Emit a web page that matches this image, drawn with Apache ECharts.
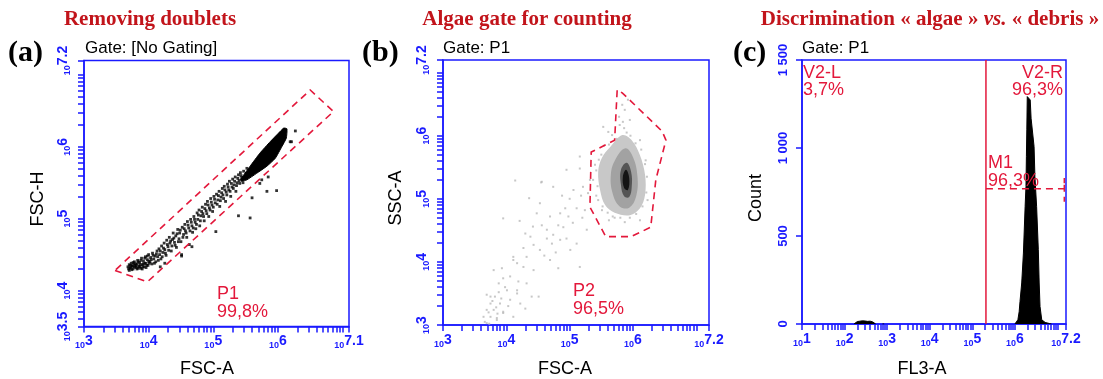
<!DOCTYPE html>
<html>
<head>
<meta charset="utf-8">
<script src="https://cdn.jsdelivr.net/npm/echarts@6/dist/echarts.min.js"></script>
<style>
  html, body { margin: 0; padding: 0; background: #fff; }
  #chart { width: 1103px; height: 379px; }
</style>
</head>
<body>
<div id="chart"></div>
<script>
// ---------- (a) Removing doublets: FSC-A vs FSC-H, values as log10 of the signal ----------
const singletEvents = [
  [3.68,4.33],[3.69,4.30],[3.70,4.36],[3.71,4.32],[3.72,4.31],[3.73,4.38],[3.74,4.34],[3.75,4.34],[3.76,4.30],[3.77,4.37],
  [3.78,4.40],[3.79,4.35],[3.80,4.32],[3.81,4.34],[3.82,4.37],[3.83,4.42],[3.84,4.31],[3.85,4.34],[3.86,4.39],[3.87,4.36],
  [3.88,4.31],[3.89,4.45],[3.90,4.36],[3.91,4.33],[3.92,4.41],[3.93,4.33],[3.94,4.38],[3.95,4.47],[3.96,4.38],[3.97,4.35],
  [3.98,4.43],[3.99,4.35],[4.00,4.50],[4.01,4.38],[4.02,4.40],[4.03,4.46],[4.05,4.37],[4.06,4.52],[4.08,4.44],[4.10,4.48],
  [4.11,4.40],[4.13,4.55],[4.14,4.47],[4.16,4.58],[4.17,4.50],[4.19,4.44],[4.20,4.62],[4.22,4.53],[4.24,4.66],[4.25,4.57],
  [4.27,4.49],[4.28,4.70],[4.30,4.61],[4.32,4.74],[4.33,4.66],[4.35,4.55],[4.37,4.71],[4.38,4.80],[4.40,4.67],[4.42,4.76],
  [4.43,4.60],[4.45,4.85],[4.47,4.72],[4.48,4.80],[4.50,4.68],[4.51,4.50],[4.52,4.88],[4.54,4.78],[4.56,4.92],[4.57,4.83],
  [4.59,4.74],[4.60,4.96],[4.62,4.87],[4.63,4.64],[4.65,4.99],[4.67,4.90],[4.68,4.81],[4.70,5.03],[4.72,4.95],[4.73,4.86],
  [4.75,5.08],[4.76,4.99],[4.78,5.12],[4.79,4.90],[4.81,5.04],[4.83,5.16],[4.84,5.07],[4.86,4.97],[4.88,5.20],[4.89,5.11],
  [4.91,5.24],[4.93,5.03],[4.94,5.15],[4.96,5.28],[4.98,5.19],[4.99,5.10],[5.01,5.31],[5.03,5.22],[5.04,4.82],[5.05,5.34],
  [5.07,5.26],[5.09,5.38],[5.10,5.17],[5.12,5.30],[5.14,5.42],[5.15,5.33],[5.17,5.45],[5.19,5.24],[5.20,5.37],[5.22,5.48],
  [5.24,5.40],[5.25,5.52],[5.27,5.31],[5.29,5.44],[5.30,5.55],[5.32,5.47],[5.34,5.58],[5.35,5.38],[5.37,5.50],[5.39,5.61],
  [5.39,5.04],[5.40,5.53],[5.42,5.64],[5.44,5.57],[5.46,5.50],[5.47,5.66],[5.50,5.58],[5.52,5.70],[5.55,5.62],
  [3.70,4.28],[3.72,4.35],[3.74,4.29],[3.76,4.39],[3.78,4.33],[3.80,4.37],[3.82,4.30],[3.84,4.40],[3.86,4.33],[3.88,4.42],
  [3.90,4.30],[3.92,4.37],[3.94,4.45],[3.96,4.32],[3.98,4.48],[4.00,4.41],[4.04,4.43],[4.07,4.49],[4.09,4.38],[4.12,4.51],
  [4.15,4.42],[4.18,4.55],[4.21,4.47],[4.23,4.59],[4.26,4.52],[4.29,4.64],[4.31,4.56],[4.34,4.69],[4.36,4.62],[4.39,4.73],
  [4.41,4.63],[4.44,4.79],[4.46,4.68],[4.49,4.84],[4.53,4.74],[4.55,4.86],[4.58,4.80],[4.61,4.91],[4.64,4.83],[4.66,4.95],
  [4.69,4.87],[4.71,4.99],[4.74,4.92],[4.77,5.05],[4.80,4.97],[4.82,5.10],[4.85,5.03],[4.87,5.14],[4.90,5.07],[4.92,5.19],
  [4.95,5.12],[4.97,5.23],[5.00,5.16],[5.02,5.27],[5.06,5.20],[5.08,5.32],[5.11,5.25],[5.13,5.36],[5.16,5.28],[5.18,5.40],
  [5.21,5.33],[5.23,5.44],[5.26,5.38],[5.28,5.49],[5.31,5.42],[5.33,5.52],[5.36,5.46],[5.38,5.56],[5.41,5.49],[5.43,5.60],
  [5.45,5.54],
  [4.51,4.48],[4.67,4.61],[5.57,5.01],[5.60,5.29],[5.75,5.54],[5.72,5.49],[5.85,5.58],[5.83,5.38],[5.98,5.39],
  [6.19,6.07],[6.27,6.22],[6.21,6.07],[4.25,4.38],[4.18,4.33]
];
// outline of the saturated singlet cluster
const singletCore = [
  [5.42,5.54],[5.57,5.73],[5.72,5.91],[5.88,6.07],[6.01,6.19],[6.09,6.26],[6.14,6.25],[6.13,6.12],
  [6.06,6.00],[5.96,5.84],[5.83,5.73],[5.67,5.63],[5.52,5.54],[5.44,5.52]
];
const gateP1 = [[3.48,4.28],[3.98,4.12],[6.86,6.49],[6.50,6.79]];

// ---------- (b) Algae gate: FSC-A vs SSC-A, log10 units ----------
const scatterEvents = [
  [4.14,5.29],[3.95,4.69],[4.21,4.65],[4.55,5.26],[4.36,5.01],[4.48,4.77],[4.56,4.58],[4.74,4.43],[4.64,4.37],[4.85,4.35],
  [4.95,4.37],[4.98,4.72],[4.93,4.85],[5.11,4.85],[5.16,3.92],[4.82,3.90],[4.69,4.03],[4.53,4.19],[4.43,4.27],[4.32,4.08],
  [4.27,3.92],[4.17,3.98],[4.06,3.77],[3.95,3.74],[4.01,3.55],[3.88,3.66],[3.82,3.45],[3.75,3.34],[3.69,3.24],[3.80,3.24],
  [3.90,3.34],[4.06,3.40],[4.17,3.50],[4.40,3.45],[4.51,3.45],[4.11,3.13],[3.85,3.11],[3.69,3.03],[3.95,3.19],[4.95,5.46],
  [4.74,5.19],[5.16,5.48],[5.06,5.14],[4.85,4.77],[4.64,4.51],[4.38,4.40],[4.27,4.22],[4.53,4.93],[4.69,4.72],[4.82,4.58],
  [5.01,4.19],[4.72,4.29],[4.43,3.87],[4.32,3.66],[4.19,3.69],[3.93,3.90],[4.11,4.08],[3.75,3.45],[3.64,3.13],[4.22,3.34],
  [5.11,4.29],[5.27,4.51],[5.24,4.82],[5.29,5.09],[5.32,5.30],[5.21,5.19],[4.56,5.27],[5.16,5.67],[5.53,6.14],[5.61,6.06],
  [5.40,5.54],[5.45,4.98],[5.54,5.84],[5.51,4.82],[5.62,4.66],[5.71,4.70],[5.87,4.63],[6.11,4.66],[6.23,4.98],[6.20,5.61],
  [6.11,5.93],[5.95,6.25],[5.87,6.41],[5.83,6.49],[5.79,6.17],[5.67,6.01],[5.92,6.57],
  [3.69,3.48],[3.80,3.87],[4.11,4.03],[4.17,3.55],[4.30,3.26],[3.95,3.21],[3.75,3.13],[3.85,3.08],
  [3.72,3.20],[3.78,3.38],[3.84,3.28],[3.88,3.52],[3.92,3.42],[3.98,3.60],[4.03,3.30],[3.66,3.05],[3.73,3.02],[3.86,3.18],
  [4.60,4.10],[4.78,4.15],[4.90,4.55],[5.05,4.62],[5.20,4.70],[5.00,5.00],[4.88,5.05],[5.18,5.05],[4.42,4.56],[4.30,4.45],
  [5.86,6.12],[5.90,6.05],[5.78,6.30],[5.96,6.00],[5.84,6.22],[5.42,5.45],[5.44,5.20],[5.46,5.62],[5.50,5.70],[5.42,5.05],
  [5.52,4.88],[5.60,4.78],[5.68,4.72],[5.80,4.70],[5.95,4.70],[6.05,4.76],[6.15,4.88],[6.21,5.10],[6.22,5.35],[6.19,5.55],
  [6.13,5.78],[6.04,5.88],[5.74,5.95],[5.62,5.86],[5.37,5.30]
];
// density levels of the algae population (outer to inner)
const algaeHalo = [
  [5.83,6.01],[5.98,5.93],[6.11,5.69],[6.19,5.38],[6.19,5.06],[6.11,4.85],[5.95,4.74],[5.71,4.78],
  [5.56,4.90],[5.48,5.14],[5.45,5.43],[5.51,5.65],[5.64,5.82]
];
const algaeMid = [
  [5.88,5.80],[6.00,5.66],[6.07,5.36],[6.05,5.04],[5.94,4.86],[5.79,4.88],[5.68,5.08],[5.65,5.38],[5.72,5.62]
];
const algaeDense = [
  [5.90,5.57],[5.97,5.43],[5.98,5.19],[5.94,5.03],[5.86,5.04],[5.81,5.22],[5.81,5.46]
];
const algaeCore = [[5.89,5.46],[5.94,5.33],[5.92,5.14],[5.86,5.17],[5.84,5.35]];
const gateP2 = [
  [5.75,6.72],[5.71,5.93],[5.34,5.74],[5.32,4.87],[5.57,4.40],[5.97,4.40],[6.28,4.55],[6.36,5.30],
  [6.52,5.93],[6.46,6.07],[5.83,6.68]
];

// ---------- (c) FL3-A histogram: [log10 FL3-A, count] ----------
const fl3Algae = [
  [6.00,0],[6.04,8],[6.07,24],[6.10,70],[6.12,128],[6.16,233],[6.20,403],[6.24,667],[6.26,781],[6.27,951],
  [6.28,1103],[6.29,1292],[6.32,1301],[6.36,1273],[6.38,1169],[6.42,1159],[6.45,1008],[6.47,838],[6.51,667],
  [6.55,422],[6.57,233],[6.59,100],[6.63,24],[6.71,9],[6.82,2],[6.86,0]
];
const fl3Debris = [
  [2.22,0],[2.26,8],[2.30,14],[2.36,16],[2.42,18],[2.48,17],[2.54,15],[2.60,16],[2.66,12],[2.70,6],[2.73,0],
  null,[2.89,0],[2.91,8],[2.93,0]
];
const markerV2 = 5.32;          // V2 split between V2-L and V2-R
const markerM1Level = 768;      // height of the M1 range bar
const markerM1Range = [5.32, 7.16];
const markerM1Cap = [694, 830];

// ---------- tick labels ----------
const fscATicksA = [3, 4, 5, 6, 7.1];
const fscHTicks = [3.5, 4, 5, 6, 7.2];
const fscATicksB = [3, 4, 5, 6, 7.2];
const sscTicks = [3, 4, 5, 6, 7.2];
const fl3Ticks = [1, 2, 3, 4, 5, 6, 7.2];
const countTicks = [0, 500, 1000, 1500];
const countTickText = ['0', '500', '1 000', '1 500'];

const BLUE = '#1a1aff';
const RED = '#e3183b';
const TITLE_RED = '#c2141b';
const SANS = 'Liberation Sans, Arial, sans-serif';
const SERIF = 'Liberation Serif, Times New Roman, serif';

// decade and sub-decade tick positions of a log10 axis
function logTicks(min, max) {
  const out = [min];
  for (let d = Math.floor(min); d <= Math.ceil(max); d++) {
    for (let k = 1; k <= 9; k++) {
      const v = d + Math.log10(k);
      if (v > min + 1e-6 && v < max - 1e-6) out.push(v);
    }
  }
  out.push(max);
  return out;
}

const powRich = {
  b: { fontSize: 9, fontWeight: 'bold', fontFamily: SANS, color: BLUE, verticalAlign: 'bottom' },
  e: { fontSize: 14, fontWeight: 'bold', fontFamily: SANS, color: BLUE, verticalAlign: 'top', padding: [0, 0, 2, 0] }
};
const powLabel = v => '{b|10}{e|' + String(Math.round(v * 10) / 10) + '}';

function logAxis(gridIndex, min, max, labels, vertical) {
  return {
    type: 'value', gridIndex, min, max,
    axisLine: { show: true, onZero: false, lineStyle: { color: BLUE, width: 1.5 } },
    axisTick: { show: true, inside: false, length: 6, customValues: logTicks(min, max),
                lineStyle: { color: BLUE, width: 1.5 } },
    axisLabel: { show: true, customValues: labels, formatter: powLabel, rich: powRich,
                 rotate: vertical ? 90 : 0, margin: vertical ? 12 : 8, color: BLUE },
    splitLine: { show: false }
  };
}

function polygonSeries(pts, gi, style, smooth, z) {
  return {
    type: 'custom', coordinateSystem: 'cartesian2d', xAxisIndex: gi, yAxisIndex: gi,
    data: pts, silent: true, z: z,
    renderItem: (params, api) => {
      if (params.dataIndex !== 0) return null;
      return {
        type: 'polygon',
        shape: { points: pts.map(p => api.coord(p)), smooth: smooth || 0 },
        style: Object.assign({}, style)
      };
    }
  };
}

const gateStyle = { fill: 'none', stroke: RED, lineWidth: 1.6, lineDash: [7, 5] };

const option = {
  animation: false,
  backgroundColor: '#ffffff',
  grid: [
    { left: 84, top: 60.5, width: 265, height: 266, show: true, borderColor: BLUE, borderWidth: 1.5, outerBoundsMode: 'none' },
    { left: 443, top: 60, width: 266, height: 265, show: true, borderColor: BLUE, borderWidth: 1.5, outerBoundsMode: 'none' },
    { left: 802, top: 60, width: 264, height: 264, show: true, borderColor: BLUE, borderWidth: 1.5, outerBoundsMode: 'none' }
  ],
  xAxis: [
    logAxis(0, 3, 7.1, fscATicksA, false),
    logAxis(1, 3, 7.2, fscATicksB, false),
    logAxis(2, 1, 7.2, fl3Ticks, false)
  ],
  yAxis: [
    logAxis(0, 3.5, 7.2, fscHTicks, true),
    logAxis(1, 3, 7.2, sscTicks, true),
    {
      type: 'value', gridIndex: 2, min: 0, max: 1500,
      axisLine: { show: true, lineStyle: { color: BLUE, width: 1.5 } },
      axisTick: { show: true, inside: false, length: 6, customValues: countTicks, lineStyle: { color: BLUE, width: 1.5 } },
      axisLabel: { customValues: countTicks, rotate: 90, margin: 12, color: BLUE,
                   fontSize: 13, fontWeight: 'bold', fontFamily: SANS,
                   formatter: v => countTickText[countTicks.indexOf(v)] },
      splitLine: { show: false }
    }
  ],
  series: [
    // (a)
    polygonSeries(singletCore, 0, { fill: '#000', stroke: '#000', lineWidth: 1 }, 0.15, 3),
    { type: 'scatter', xAxisIndex: 0, yAxisIndex: 0, data: singletEvents, symbol: 'rect', symbolSize: 2.8,
      itemStyle: { color: '#000' }, silent: true, z: 4 },
    polygonSeries(gateP1, 0, gateStyle, 0, 6),
    // (b)
    polygonSeries(algaeHalo, 1, { fill: '#c8c8c8' }, 0.35, 2),
    { type: 'scatter', xAxisIndex: 1, yAxisIndex: 1, data: scatterEvents, symbol: 'rect', symbolSize: 2,
      itemStyle: { color: '#b9b9b9' }, silent: true, z: 3 },
    polygonSeries(algaeMid, 1, { fill: '#a2a2a2' }, 0.4, 4),
    polygonSeries(algaeDense, 1, { fill: '#555555' }, 0.4, 5),
    polygonSeries(algaeCore, 1, { fill: '#141414' }, 0.4, 6),
    polygonSeries(gateP2, 1, gateStyle, 0, 7),
    // (c)
    { type: 'line', xAxisIndex: 2, yAxisIndex: 2, data: fl3Algae, symbol: 'none', connectNulls: false,
      lineStyle: { color: '#000', width: 1 }, areaStyle: { color: '#000', opacity: 1 }, silent: true, z: 3 },
    { type: 'line', xAxisIndex: 2, yAxisIndex: 2, data: fl3Debris, symbol: 'none', connectNulls: false,
      lineStyle: { color: '#000', width: 1 }, areaStyle: { color: '#000', opacity: 1 }, silent: true, z: 3 },
    { type: 'line', xAxisIndex: 2, yAxisIndex: 2, data: [[markerV2, 0], [markerV2, 1500]], symbol: 'none',
      lineStyle: { color: RED, width: 1.5 }, silent: true, z: 5 },
    { type: 'line', xAxisIndex: 2, yAxisIndex: 2, symbol: 'none', silent: true, z: 5,
      data: [[markerM1Range[0], markerM1Level], [markerM1Range[1], markerM1Level],
             [markerM1Range[1], markerM1Cap[1]], [markerM1Range[1], markerM1Cap[0]]],
      lineStyle: { color: RED, width: 1.5, type: [7, 5] } }
  ],
  graphic: { elements: [] }
};

function txt(text, x, y, font, fill, align, rotation) {
  return { type: 'text', x, y, rotation: rotation || 0, silent: true, z: 100,
           style: { text, font, fill, align: align || 'left', verticalAlign: 'middle' } };
}
const g = option.graphic.elements;
// panel titles
g.push(txt('Removing doublets', 150, 20, 'bold 21px ' + SERIF, TITLE_RED, 'center'));
g.push(txt('Algae gate for counting', 527, 20, 'bold 21px ' + SERIF, TITLE_RED, 'center'));
g.push({
  type: 'text', x: 930, y: 20, silent: true, z: 100,
  style: {
    text: '{n|Discrimination « algae » }{i|vs.}{n| « debris »}',
    align: 'center', verticalAlign: 'middle',
    rich: {
      n: { font: 'bold 21px ' + SERIF, fill: TITLE_RED, color: TITLE_RED },
      i: { font: 'italic bold 21px ' + SERIF, fill: TITLE_RED, color: TITLE_RED }
    }
  }
});
// panel letters
g.push(txt('(a)', 8, 53, 'bold 30px ' + SERIF, '#000'));
g.push(txt('(b)', 362, 53, 'bold 30px ' + SERIF, '#000'));
g.push(txt('(c)', 733, 53, 'bold 30px ' + SERIF, '#000'));
// gate captions
g.push(txt('Gate: [No Gating]', 85, 48, '17px ' + SANS, '#000'));
g.push(txt('Gate: P1', 443, 48, '17px ' + SANS, '#000'));
g.push(txt('Gate: P1', 802, 48, '17px ' + SANS, '#000'));
// axis titles
g.push(txt('FSC-A', 207, 369, '18px ' + SANS, '#000', 'center'));
g.push(txt('FSC-H', 38, 199, '18px ' + SANS, '#000', 'center', Math.PI / 2));
g.push(txt('FSC-A', 565, 369, '18px ' + SANS, '#000', 'center'));
g.push(txt('SSC-A', 396, 198, '18px ' + SANS, '#000', 'center', Math.PI / 2));
g.push(txt('Count', 756, 198, '18px ' + SANS, '#000', 'center', Math.PI / 2));
g.push(txt('FL3-A', 922, 369, '18px ' + SANS, '#000', 'center'));
// gate statistics
g.push(txt('P1', 217, 294, '18px ' + SANS, RED));
g.push(txt('99,8%', 217, 312, '18px ' + SANS, RED));
g.push(txt('P2', 573, 291, '18px ' + SANS, RED));
g.push(txt('96,5%', 573, 309, '18px ' + SANS, RED));
g.push(txt('V2-L', 803, 73, '18px ' + SANS, RED));
g.push(txt('3,7%', 803, 90, '18px ' + SANS, RED));
g.push(txt('V2-R', 1063, 73, '18px ' + SANS, RED, 'right'));
g.push(txt('96,3%', 1063, 90, '18px ' + SANS, RED, 'right'));
g.push(txt('M1', 988, 163, '18px ' + SANS, RED));
g.push(txt('96,3%', 988, 181, '18px ' + SANS, RED));

const chart = echarts.init(document.getElementById('chart'), null, { renderer: 'canvas' });
chart.setOption(option);
</script>
</body>
</html>
